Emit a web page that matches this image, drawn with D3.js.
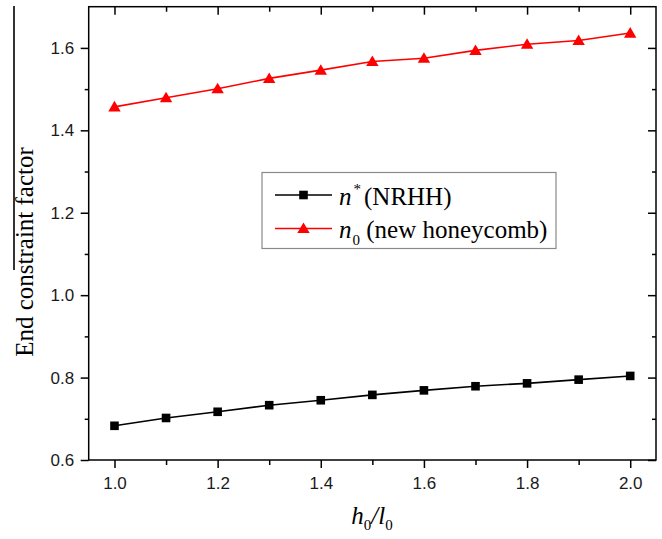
<!DOCTYPE html>
<html><head><meta charset="utf-8">
<script src="https://cdn.jsdelivr.net/npm/d3@7/dist/d3.min.js"></script>
<style>body{margin:0;background:#fff}svg{display:block}</style>
</head><body><svg id="c" width="662" height="539"></svg>
<script>
// ---- data ----
const xValues = [1.0, 1.1, 1.2, 1.3, 1.4, 1.5, 1.6, 1.7, 1.8, 1.9, 2.0];
const nStar   = [0.683, 0.702, 0.717, 0.733, 0.745, 0.758, 0.769, 0.779, 0.786, 0.795, 0.804];
const n0      = [1.457, 1.479, 1.501, 1.526, 1.546, 1.567, 1.575, 1.594, 1.609, 1.618, 1.636];
const xMajorTicks = [1.0, 1.2, 1.4, 1.6, 1.8, 2.0];
const xMinorTicks = [1.1, 1.3, 1.5, 1.7, 1.9];
const yMajorTicks = [0.6, 0.8, 1.0, 1.2, 1.4, 1.6];
const yMinorTicks = [0.7, 0.9, 1.1, 1.3, 1.5];
const yTitle = "End constraint factor";

// ---- layout ----
const L = 88.7, R = 656, T = 6.7, B = 460;
const svg = d3.select("#c");
const x = d3.scaleLinear().domain([0.95, 2.05]).range([L, R]);
const y = d3.scaleLinear().domain([0.6, 1.7]).range([B, T]);
const fmt = d3.format(".1f");
const tickFont = "'Liberation Sans', Arial, sans-serif";
const serif = "'Liberation Serif', 'Times New Roman', serif";

function styleAxis(g) {
  g.selectAll("path.domain").remove();
  g.selectAll("line").attr("stroke", "#000").attr("stroke-width", 1.5);
  g.selectAll("text").attr("font-family", tickFont).attr("font-size", 17).attr("fill", "#1a1a1a");
}
// bottom
svg.append("g").attr("transform", `translate(0,${B})`)
  .call(d3.axisBottom(x).tickValues(xMajorTicks).tickSize(8).tickPadding(9).tickFormat(fmt)).call(styleAxis);
svg.append("g").attr("transform", `translate(0,${B})`)
  .call(d3.axisBottom(x).tickValues(xMinorTicks).tickSize(5).tickFormat("")).call(styleAxis);
// top (inward)
svg.append("g").attr("transform", `translate(0,${T})`)
  .call(d3.axisTop(x).tickValues(xMajorTicks).tickSize(-8).tickFormat("")).call(styleAxis);
svg.append("g").attr("transform", `translate(0,${T})`)
  .call(d3.axisTop(x).tickValues(xMinorTicks).tickSize(-5).tickFormat("")).call(styleAxis);
// left
svg.append("g").attr("transform", `translate(${L},0)`)
  .call(d3.axisLeft(y).tickValues(yMajorTicks).tickSize(8).tickPadding(6.5).tickFormat(fmt)).call(styleAxis);
svg.append("g").attr("transform", `translate(${L},0)`)
  .call(d3.axisLeft(y).tickValues(yMinorTicks).tickSize(4).tickFormat("")).call(styleAxis);
// right (inward)
svg.append("g").attr("transform", `translate(${R},0)`)
  .call(d3.axisRight(y).tickValues(yMajorTicks).tickSize(-8).tickFormat("")).call(styleAxis);
svg.append("g").attr("transform", `translate(${R},0)`)
  .call(d3.axisRight(y).tickValues(yMinorTicks).tickSize(-4).tickFormat("")).call(styleAxis);

// frame
svg.append("rect").attr("x", L).attr("y", T).attr("width", R - L).attr("height", B - T)
  .attr("fill", "none").attr("stroke", "#000").attr("stroke-width", 1.5);

// series
const tri = "M0,-6L6.2,4.6L-6.2,4.6Z";
function drawSeries(vals, color, marker) {
  const pts = xValues.map((v, i) => [v, vals[i]]);
  svg.append("path").datum(pts)
    .attr("d", d3.line().x(d => x(d[0])).y(d => y(d[1])))
    .attr("fill", "none").attr("stroke", color).attr("stroke-width", 1.6);
  const g = svg.append("g");
  pts.forEach(d => {
    if (marker === "square") {
      g.append("rect").attr("x", x(d[0]) - 4.3).attr("y", y(d[1]) - 4.3)
        .attr("width", 8.6).attr("height", 8.6).attr("fill", color);
    } else {
      g.append("path").attr("d", tri).attr("transform", `translate(${x(d[0])},${y(d[1])})`).attr("fill", color);
    }
  });
}
drawSeries(nStar, "#000", "square");
drawSeries(n0, "#ff0000", "triangle");

// legend
const lg = svg.append("g");
lg.append("rect").attr("x", 262).attr("y", 172.5).attr("width", 294).attr("height", 76)
  .attr("fill", "#fff").attr("stroke", "#8a8a8a").attr("stroke-width", 1.2);
const legendRows = [
  {color: "#000", marker: "square", y: 195, sub: "*", sup: true, label: "(NRHH)"},
  {color: "#ff0000", marker: "triangle", y: 228.5, sub: "0", sup: false, label: "(new honeycomb)"}
];
legendRows.forEach(r => {
  lg.append("line").attr("x1", 275).attr("x2", 332).attr("y1", r.y).attr("y2", r.y)
    .attr("stroke", r.color).attr("stroke-width", 1.6);
  if (r.marker === "square") {
    lg.append("rect").attr("x", 303.5 - 4.3).attr("y", r.y - 4.3).attr("width", 8.6).attr("height", 8.6).attr("fill", r.color);
  } else {
    lg.append("path").attr("d", tri).attr("transform", `translate(303.5,${r.y})`).attr("fill", r.color);
  }
  const t = lg.append("text").attr("x", 339).attr("y", r.y + 9.5)
    .attr("font-family", serif).attr("font-size", 25).attr("fill", "#000");
  t.append("tspan").attr("font-style", "italic").text("n");
  t.append("tspan").attr("font-size", 15).attr("dx", r.sup ? 2 : 1).attr("dy", r.sup ? -11 : 7).text(r.sub);
  t.append("tspan").attr("dy", r.sup ? 11 : -7).attr("dx", r.sup ? 3 : 0).text(r.sup ? "(NRHH)" : " (new honeycomb)");
});

// axis titles
svg.append("text").attr("transform", "translate(33,252) rotate(-90)").attr("text-anchor", "middle")
  .attr("font-family", serif).attr("font-size", 25).attr("fill", "#000").text(yTitle);

const xt = svg.append("text").attr("x", 372).attr("y", 524).attr("text-anchor", "middle")
  .attr("font-family", serif).attr("font-size", 25).attr("fill", "#000");
xt.append("tspan").attr("font-style", "italic").text("h");
xt.append("tspan").attr("font-size", 15).attr("dy", 6).text("0");
xt.append("tspan").attr("dy", -6).attr("font-style", "italic").text("/l");
xt.append("tspan").attr("font-size", 15).attr("dy", 6).text("0");

// vertical rule at the left edge of the y title (present in the reference image)
svg.append("line").attr("x1", 14).attr("x2", 14).attr("y1", 6).attr("y2", 270)
  .attr("stroke", "#000").attr("stroke-width", 1.6);
</script>
</body></html>
